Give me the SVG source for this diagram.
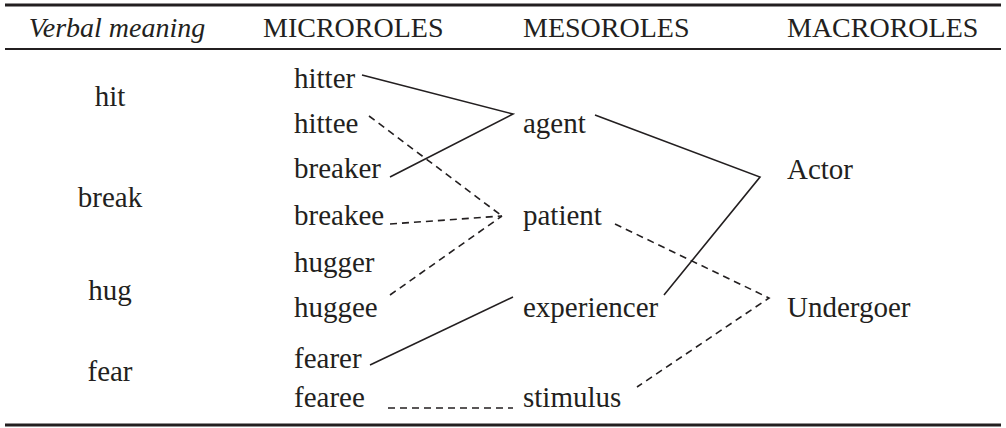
<svg xmlns="http://www.w3.org/2000/svg" width="1006" height="428" viewBox="0 0 1006 428">
<style>
text{font-family:"Liberation Serif","Times New Roman",serif;font-size:29px;fill:#231f20}
.h{font-size:28px}
.it{font-style:italic}
.mid{text-anchor:middle}
.rule{stroke:#231f20;fill:none}
.s{stroke:#231f20;stroke-width:1.6;fill:none}
.d{stroke:#231f20;stroke-width:1.6;fill:none;stroke-dasharray:7 5}
</style>
<rect width="1006" height="428" fill="#fff"/>
<g id="rules">
<line class="rule" x1="5" y1="5" x2="1001" y2="5" stroke-width="3"/>
<line class="rule" x1="5" y1="49" x2="1001" y2="49" stroke-width="2"/>
<line class="rule" x1="5" y1="425" x2="1001" y2="425" stroke-width="3"/>
</g>
<g id="header">
<text class="h it mid" x="117" y="37">Verbal meaning</text>
<text class="h" x="263" y="37">MICROROLES</text>
<text class="h" x="523" y="37">MESOROLES</text>
<text class="h" x="787" y="37">MACROROLES</text>
</g>
<g id="verbs">
<text id="v-hit" class="mid" x="110" y="106">hit</text>
<text id="v-break" class="mid" x="110" y="207">break</text>
<text id="v-hug" class="mid" x="110" y="300">hug</text>
<text id="v-fear" class="mid" x="110" y="381">fear</text>
</g>
<g id="n-hitter"><text x="294" y="88">hitter</text></g>
<g id="n-hittee"><text x="294" y="133">hittee</text></g>
<g id="n-breaker"><text x="294" y="178">breaker</text></g>
<g id="n-breakee"><text x="294" y="225">breakee</text></g>
<g id="n-hugger"><text x="294" y="272">hugger</text></g>
<g id="n-huggee"><text x="294" y="317">huggee</text></g>
<g id="n-fearer"><text x="294" y="368">fearer</text></g>
<g id="n-fearee"><text x="294" y="407">fearee</text></g>
<g id="n-agent"><text x="523" y="133">agent</text></g>
<g id="n-patient"><text x="523" y="225">patient</text></g>
<g id="n-experiencer"><text x="523" y="317">experiencer</text></g>
<g id="n-stimulus"><text x="523" y="407">stimulus</text></g>
<g id="n-actor"><text x="787" y="179">Actor</text></g>
<g id="n-undergoer"><text x="787" y="317">Undergoer</text></g>
<g id="connectors">
<polyline class="s" points="362,75 513,114 390,177"/>
<line class="d" x1="369" y1="116" x2="502" y2="216"/>
<line class="d" x1="390" y1="224" x2="502" y2="216"/>
<line class="d" x1="390" y1="295" x2="502" y2="216"/>
<polyline class="s" points="595,115 760,177 664,295"/>
<polyline class="d" points="615,224 769,298 637,387"/>
<line class="s" x1="370" y1="365" x2="513" y2="297"/>
<line class="d" x1="388" y1="408" x2="513" y2="408"/>
</g>
</svg>
